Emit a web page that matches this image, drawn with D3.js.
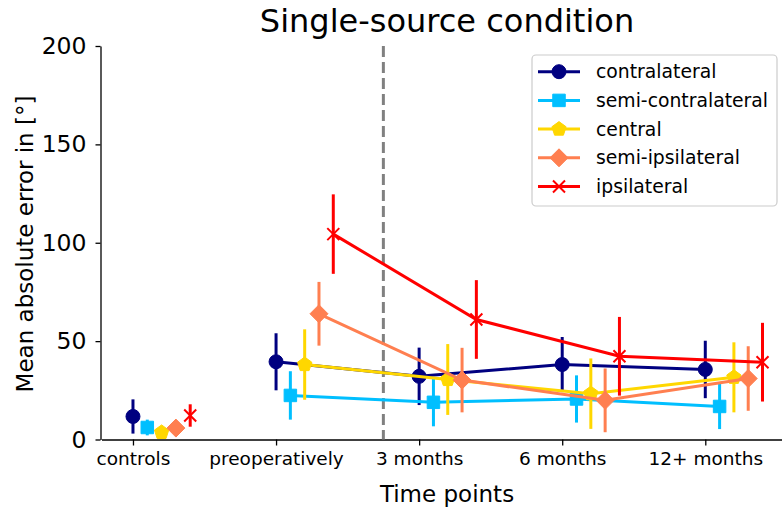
<html>
<head>
<style>
  body { margin: 0; background: #fff; }
  text { font-family: "DejaVu Sans", sans-serif; fill: #000; }
</style>
</head>
<body>
<svg id="mainSvg" width="782" height="509"></svg>
<script src="https://d3js.org/d3.v7.min.js"></script>
<script>
const categories = ['controls', 'preoperatively', '3 months', '6 months', '12+ months']
const seriesNames = ['contralateral', 'semi-contralateral', 'central', 'semi-ipsilateral', 'ipsilateral']
const contraMean = [11.7, 39.5, 32.1, 38.1, 35.6]
const contraErr = [8.7, 14.5, 14.6, 14.0, 14.6]
const semiContraMean = [6.1, 22.4, 18.9, 20.6, 16.8]
const semiContraErr = [4.0, 12.3, 12.2, 12.0, 11.5]
const centralMean = [3.6, 38.1, 30.5, 23.3, 31.6]
const centralErr = [1.0, 17.9, 18.0, 17.9, 17.8]
const semiIpsiMean = [5.8, 63.9, 30.2, 19.9, 31.0]
const semiIpsiErr = [1.5, 16.2, 16.4, 16.2, 16.4]
const ipsiMean = [12.2, 104.4, 61.0, 42.3, 39.3]
const ipsiErr = [5.7, 20.2, 20.0, 20.0, 20.0]
const yTicks = [0, 50, 100, 150, 200]

const colors = ['#000080', '#00bfff', '#ffd700', '#ff7f50', '#ff0000']
const means = [contraMean, semiContraMean, centralMean, semiIpsiMean, ipsiMean]
const errs = [contraErr, semiContraErr, centralErr, semiIpsiErr, ipsiErr]

// marker shapes, roughly like matplotlib o s p D x
const circleSym = { draw(ctx, s) { const r = Math.sqrt(s / Math.PI); ctx.moveTo(r, 0); ctx.arc(0, 0, r, 0, 2 * Math.PI) } }
const squareSym = { draw(ctx, s) { const h = Math.sqrt(s) / 2; ctx.rect(-h, -h, 2 * h, 2 * h) } }
const pentaSym = { draw(ctx, s) {
  const r = Math.sqrt(s) / 2
  for (let k = 0; k < 5; k++) {
    const a = -Math.PI / 2 + k * 2 * Math.PI / 5
    k === 0 ? ctx.moveTo(r * Math.cos(a), r * Math.sin(a)) : ctx.lineTo(r * Math.cos(a), r * Math.sin(a))
  }
  ctx.closePath()
} }
const diamondSym = { draw(ctx, s) { const r = Math.sqrt(s) / 2; ctx.moveTo(0, -r); ctx.lineTo(r, 0); ctx.lineTo(0, r); ctx.lineTo(-r, 0); ctx.closePath() } }
const xSym = { draw(ctx, s) { const r = Math.sqrt(s) / 2; ctx.moveTo(-r, -r); ctx.lineTo(r, r); ctx.moveTo(r, -r); ctx.lineTo(-r, r) } }
const symbols = [
  d3.symbol().type(circleSym).size(Math.PI * 49),
  d3.symbol().type(squareSym).size(12.5 * 12.5),
  d3.symbol().type(pentaSym).size(15 * 15),
  d3.symbol().type(diamondSym).size(18 * 18),
  d3.symbol().type(xSym).size(12 * 12)
]

const svg = d3.select('#mainSvg')
const x = d3.scaleLinear().domain([-0.22, 4.62]).range([101.5, 794])
const y = d3.scaleLinear().domain([0, 200]).range([439.5, 46])

// axes
const gy = svg.append('g').attr('transform', 'translate(100.5,0)')
  .call(d3.axisLeft(y).tickValues(yTicks).tickSize(5).tickSizeOuter(0).tickPadding(9))
gy.selectAll('text').style('font-size', '23.5px')
const gx = svg.append('g').attr('transform', 'translate(0,439.5)')
  .call(d3.axisBottom(x).tickValues(d3.range(categories.length)).tickFormat(i => categories[i]).tickSize(6).tickSizeOuter(0))
gx.selectAll('text').style('font-size', '18.5px').attr('y', 25).attr('dy', 0)
svg.selectAll('.domain').attr('stroke-width', 1.3)
svg.selectAll('.tick line').attr('stroke-width', 1.3)

// separator
svg.append('line')
  .attr('x1', x(1.75)).attr('x2', x(1.75)).attr('y1', y(200)).attr('y2', y(0))
  .attr('stroke', '#808080').attr('stroke-width', 3).attr('stroke-dasharray', '11,5')

// series
seriesNames.forEach((name, s) => {
  const pts = means[s].map((m, i) => ({ i, m, e: errs[s][i], xp: x(i + s * 0.1) }))
  const g = svg.append('g')
  g.selectAll('line.err').data(pts).join('line')
    .attr('x1', d => d.xp).attr('x2', d => d.xp)
    .attr('y1', d => y(d.m - d.e)).attr('y2', d => y(d.m + d.e))
    .attr('stroke', colors[s]).attr('stroke-width', 3)
  g.append('path').datum(pts.slice(1))
    .attr('d', d3.line().x(d => d.xp).y(d => y(d.m)))
    .attr('fill', 'none').attr('stroke', colors[s]).attr('stroke-width', 3)
  g.selectAll('path.mk').data(pts).join('path')
    .attr('transform', d => `translate(${d.xp},${y(d.m)})`)
    .attr('d', symbols[s])
    .attr('fill', s === 4 ? 'none' : colors[s])
    .attr('stroke', colors[s]).attr('stroke-width', s === 4 ? 2 : 1)
})

// legend
const lg = svg.append('g')
lg.append('rect').attr('x', 532).attr('y', 55).attr('width', 245).attr('height', 151).attr('rx', 4)
  .attr('fill', 'white').attr('fill-opacity', 0.8).attr('stroke', '#cccccc').attr('stroke-width', 1.2)
seriesNames.forEach((name, s) => {
  const cy = 71.7 + s * 28.7
  lg.append('line').attr('x1', 538).attr('x2', 580).attr('y1', cy).attr('y2', cy)
    .attr('stroke', colors[s]).attr('stroke-width', 3)
  lg.append('path').attr('transform', `translate(559,${cy})`).attr('d', symbols[s])
    .attr('fill', s === 4 ? 'none' : colors[s]).attr('stroke', colors[s]).attr('stroke-width', s === 4 ? 2 : 1)
  lg.append('text').attr('x', 596).attr('y', cy).attr('dy', '0.35em').style('font-size', '18.8px').text(name)
})

// titles
svg.append('text').attr('x', 447).attr('y', 32).attr('text-anchor', 'middle').style('font-size', '32px').text('Single-source condition')
svg.append('text').attr('x', 447).attr('y', 502).attr('text-anchor', 'middle').style('font-size', '23px').text('Time points')
svg.append('text').attr('transform', 'translate(33,244) rotate(-90)').attr('text-anchor', 'middle').style('font-size', '23px').text('Mean absolute error in [°]')
</script>
</body>
</html>
